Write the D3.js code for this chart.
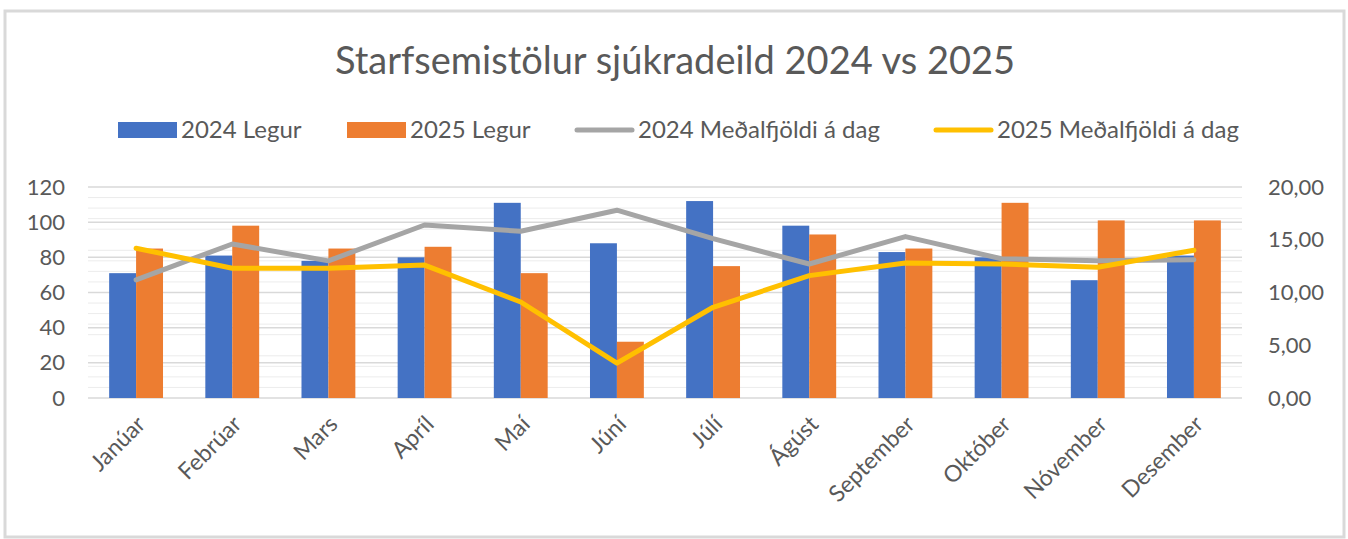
<!DOCTYPE html>
<html>
<head>
<meta charset="utf-8">
<script src="https://cdn.jsdelivr.net/npm/d3@7"></script>
<style>
  body { margin: 0; background: #fff; }
  svg text { font-family: Lato, "Open Sans", sans-serif; fill: #595959; }
</style>
</head>
<body>
<svg id="chart" width="1348" height="539"></svg>
<script>
// Data
const months = ["Janúar", "Febrúar", "Mars", "Apríl", "Maí", "Júní", "Júlí", "Ágúst", "September", "Október", "Nóvember", "Desember"];
const legur2024 = [71, 81, 78, 80, 111, 88, 112, 98, 83, 80, 67, 81];
const legur2025 = [85, 98, 85, 86, 71, 32, 75, 93, 85, 111, 101, 101];
const medal2024 = [11.2, 14.6, 13.0, 16.4, 15.8, 17.8, 15.1, 12.7, 15.3, 13.2, 13.0, 13.1];
const medal2025 = [14.2, 12.3, 12.3, 12.6, 9.1, 3.3, 8.6, 11.6, 12.8, 12.7, 12.4, 14.0];
const leftTicks = [0, 20, 40, 60, 80, 100, 120];
const rightTicks = [0, 5, 10, 15, 20];

const barColors = ["#4472c4", "#ed7d31"];
const lineColors = ["#a5a5a5", "#ffc000"];

const svg = d3.select("#chart");

// Outer frame
svg.append("rect")
    .attr("x", 5).attr("y", 11)
    .attr("width", 1339).attr("height", 526)
    .attr("fill", "none")
    .attr("stroke", "#d9d9d9")
    .attr("stroke-width", 3);

const margin = {top: 187, right: 106, bottom: 141, left: 88};
const width = 1348 - margin.left - margin.right,
      height = 539 - margin.top - margin.bottom;

const g = svg.append("g")
    .attr("transform", "translate(" + margin.left + "," + margin.top + ")");

const x0 = d3.scaleBand().domain(months).range([0, width])
    .paddingInner(0.44).paddingOuter(0.22);
const x1 = d3.scaleBand().domain([0, 1]).range([0, x0.bandwidth()]);
const yL = d3.scaleLinear().domain([0, 120]).range([height, 0]);
const yR = d3.scaleLinear().domain([0, 20]).range([height, 0]);

// Minor gridlines (every 1 on right axis)
g.append("g")
  .selectAll("line")
  .data(d3.range(0, 20.01, 1).filter(d => d % 5 !== 0))
  .join("line")
    .attr("x1", 0).attr("x2", width)
    .attr("y1", d => yR(d)).attr("y2", d => yR(d))
    .attr("stroke", "#ececec")
    .attr("stroke-width", 1);

// Major gridlines
g.append("g")
  .selectAll("line")
  .data(leftTicks)
  .join("line")
    .attr("x1", 0).attr("x2", width)
    .attr("y1", d => yL(d)).attr("y2", d => yL(d))
    .attr("stroke", "#d9d9d9")
    .attr("stroke-width", 1.5);

// Bars
const groups = g.append("g")
  .selectAll("g")
  .data(months)
  .join("g")
    .attr("transform", d => "translate(" + x0(d) + ",0)");

groups.selectAll("rect")
  .data((d, i) => [legur2024[i], legur2025[i]])
  .join("rect")
    .attr("x", (d, j) => x1(j))
    .attr("width", x1.bandwidth())
    .attr("y", d => yL(d))
    .attr("height", d => height - yL(d))
    .attr("fill", (d, j) => barColors[j]);

// Lines
const line = d3.line()
    .x((d, i) => x0(months[i]) + x0.bandwidth() / 2)
    .y(d => yR(d));

[medal2024, medal2025].forEach((s, k) => {
  g.append("path")
      .datum(s)
      .attr("d", line)
      .attr("fill", "none")
      .attr("stroke", lineColors[k])
      .attr("stroke-width", 5)
      .attr("stroke-linejoin", "round")
      .attr("stroke-linecap", "round");
});

// Left axis
const leftAxis = g.append("g")
    .attr("transform", "translate(-23,0)")
    .call(d3.axisLeft(yL).tickValues(leftTicks).tickSize(0).tickPadding(0));
leftAxis.select(".domain").remove();
leftAxis.selectAll("text").style("font-size", "22px").attr("fill", "#595959");

// Right axis
const rightAxis = g.append("g")
    .attr("transform", "translate(" + (width + 26) + ",0)")
    .call(d3.axisRight(yR).tickValues(rightTicks).tickSize(0).tickPadding(0)
      .tickFormat(d => d3.format(".2f")(d).replace(".", ",")));
rightAxis.select(".domain").remove();
rightAxis.selectAll("text").style("font-size", "22px").attr("fill", "#595959");

// X axis labels
g.append("g")
  .selectAll("text")
  .data(months)
  .join("text")
    .attr("transform", d => "translate(" + (x0(d) + x0.bandwidth() / 2 + 5) + "," + (height + 22) + ") rotate(-45)")
    .attr("text-anchor", "end")
    .attr("dy", "0.35em")
    .style("font-size", "23px")
    .text(d => d);

// Title
svg.append("text")
    .attr("x", 675).attr("y", 74)
    .attr("text-anchor", "middle")
    .style("font-size", "38px")
    .text("Starfsemistölur sjúkradeild 2024 vs 2025");

// Legend
const legendItems = [
  {label: "2024 Legur", type: "bar", color: barColors[0], x: 118},
  {label: "2025 Legur", type: "bar", color: barColors[1], x: 347},
  {label: "2024 Meðalfjöldi á dag", type: "line", color: lineColors[0], x: 575},
  {label: "2025 Meðalfjöldi á dag", type: "line", color: lineColors[1], x: 934}
];
const legend = svg.append("g");
legendItems.forEach(it => {
  if (it.type === "bar") {
    legend.append("rect")
        .attr("x", it.x).attr("y", 122)
        .attr("width", 59).attr("height", 16)
        .attr("fill", it.color);
  } else {
    legend.append("line")
        .attr("x1", it.x + 2).attr("x2", it.x + 57)
        .attr("y1", 130).attr("y2", 130)
        .attr("stroke", it.color)
        .attr("stroke-width", 5)
        .attr("stroke-linecap", "round");
  }
  legend.append("text")
      .attr("x", it.x + 63).attr("y", 130)
      .attr("dy", "0.35em")
      .style("font-size", "24px")
      .text(it.label);
});
</script>
</body>
</html>
